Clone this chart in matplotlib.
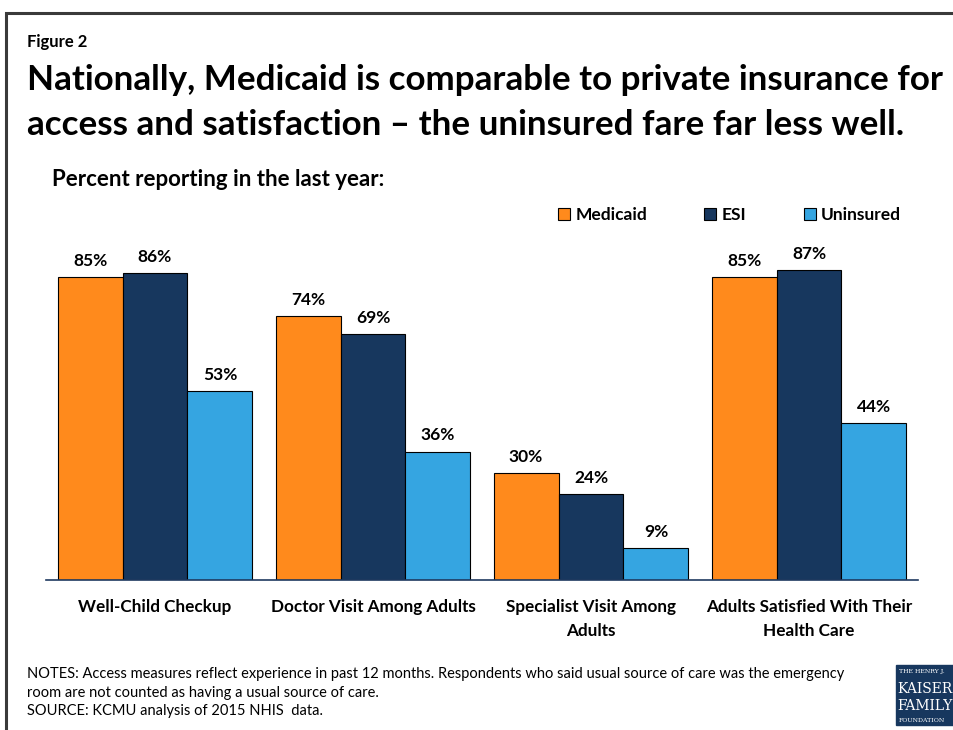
from matplotlib import pyplot as plt
from matplotlib.patches import Rectangle
import numpy as np

plt.rcParams['font.family'] = ['Lato', 'DejaVu Sans']

categories = ['Well-Child Checkup', 'Doctor Visit Among Adults',
              'Specialist Visit Among\nAdults', 'Adults Satisfied With Their\nHealth Care']
medicaid = [85, 74, 30, 85]
esi = [86, 69, 24, 87]
uninsured = [53, 36, 9, 44]
series_names = ['Medicaid', 'ESI', 'Uninsured']
colors = ['#FF8A1C', '#17375E', '#35A5E1']

W, H = 954, 730
fig = plt.figure(figsize=(W / 100, H / 100), dpi=100)

def fx(px):
    return px / W

def fy(py):
    return 1 - py / H

# border around the slide
fig.patches.append(Rectangle((fx(6), fy(H + 20)), 2, fy(13) - fy(H + 20),
                             transform=fig.transFigure, fill=False,
                             edgecolor='#3a3a3a', linewidth=2.2))

ax = fig.add_axes([fx(46), fy(580), fx(872), 356.5 / H])
x = np.arange(len(categories))
w = 0.298
for i, (vals, name, c) in enumerate(zip([medicaid, esi, uninsured], series_names, colors)):
    bars = ax.bar(x + (i - 1) * w, vals, w, color=c, edgecolor='black', linewidth=0.8, label=name)
    for b, v in zip(bars, vals):
        ax.text(b.get_x() + b.get_width() / 2, v + 2.3, f'{v}%', ha='center', va='bottom',
                fontsize=12.5, fontweight='bold')

ax.set_xlim(-0.5, 3.5)
ax.set_ylim(0, 100)
for s in ['top', 'right', 'left']:
    ax.spines[s].set_visible(False)
ax.spines['bottom'].set_color('#1F3A60')
ax.spines['bottom'].set_linewidth(1.2)
ax.set_yticks([])
ax.set_xticks(x)
ax.set_xticklabels(categories, fontsize=12.3, fontweight='bold', linespacing=1.6)
ax.tick_params(axis='x', length=0, pad=14)

leg = ax.legend(loc='upper left', bbox_to_anchor=(fx(551 - 46) / fx(872), (580 - 200) / 356.5),
                ncol=3, frameon=False, handlelength=0.7, handleheight=0.7, handletextpad=0.3,
                columnspacing=3.3, borderaxespad=0, prop={'weight': 'bold', 'size': 12.5})

fig.text(fx(27), fy(42), 'Figure 2', fontsize=12, fontweight='bold', va='center')
fig.text(fx(27), fy(80), 'Nationally, Medicaid is comparable to private insurance for',
         fontsize=25.2, fontweight='bold', va='center')
fig.text(fx(27), fy(125), 'access and satisfaction \u2013 the uninsured fare far less well.',
         fontsize=25.2, fontweight='bold', va='center')
fig.text(fx(52), fy(180), 'Percent reporting in the last year:', fontsize=16,
         fontweight='bold', va='center')

notes = ['NOTES: Access measures reflect experience in past 12 months. Respondents who said usual source of care was the emergency',
         'room are not counted as having a usual source of care.',
         'SOURCE: KCMU analysis of 2015 NHIS  data.']
for i, line in enumerate(notes):
    fig.text(fx(27), fy(674 + i * 18.5), line, fontsize=10.5, va='center')

# KFF logo block
fig.patches.append(Rectangle((fx(896), fy(725)), fx(60), fy(665) - fy(725),
                             transform=fig.transFigure, color='#17375E'))
fig.text(fx(899), fy(672), 'THE HENRY J.', fontsize=4.5, color='white', va='center',
         family='DejaVu Serif')
fig.text(fx(897), fy(689), 'KAISER', fontsize=10, color='white', va='center',
         family='DejaVu Serif')
fig.text(fx(897), fy(706), 'FAMILY', fontsize=10, color='white', va='center',
         family='DejaVu Serif')
fig.text(fx(899), fy(720), 'FOUNDATION', fontsize=4.5, color='white', va='center',
         family='DejaVu Serif')

plt.savefig('out.png', dpi=100)
